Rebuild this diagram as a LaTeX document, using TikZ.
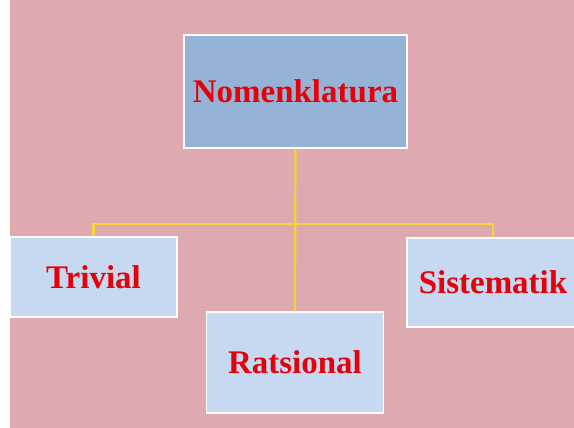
\documentclass[tikz,border=0pt]{standalone}
\usepackage{fontspec}
\setmainfont{Liberation Serif}
\definecolor{rosebg}{RGB}{222,170,176}
\definecolor{headblue}{RGB}{149,179,215}
\definecolor{paleblue}{RGB}{198,217,241}
\definecolor{textred}{RGB}{230,0,10}
\definecolor{linkyellow}{RGB}{244,212,58}
\usetikzlibrary{positioning}

\begin{document}
\begin{tikzpicture}[x=1pt, y=-1pt,
    block/.style={draw=white, line width=1.3pt, fill=paleblue, inner sep=0pt, text=textred, font=\fontsize{33}{38}\selectfont\bfseries},
    head/.style={block, fill=headblue},
    link/.style={draw=linkyellow, line width=2.2pt}
]
    % page and rose background
    \useasboundingbox (0,0) rectangle (574,428);
    \clip (0,0) rectangle (574,428);
    \fill[white] (0,0) rectangle (574,428);
    \fill[rosebg] (10,0) rectangle (574,428);

    \node[head, minimum width=223pt, minimum height=113pt] (nom) at (295.5,91.5) {Nomenklatura};
    \node[block, minimum width=167pt, minimum height=80pt] (triv) at (93.5,277) {Trivial};
    \node[block, minimum width=177pt, minimum height=101pt] (rat) at (295,362.5) {Ratsional};
    \node[block, minimum width=172pt, minimum height=89pt] (sis) at (493,282.5) {Sistematik};

    \draw[link] (nom.south) -- (rat.north);
    \draw[link] (triv.north) -- ++(0,-12) -| (sis.north);
\end{tikzpicture}
\end{document}
